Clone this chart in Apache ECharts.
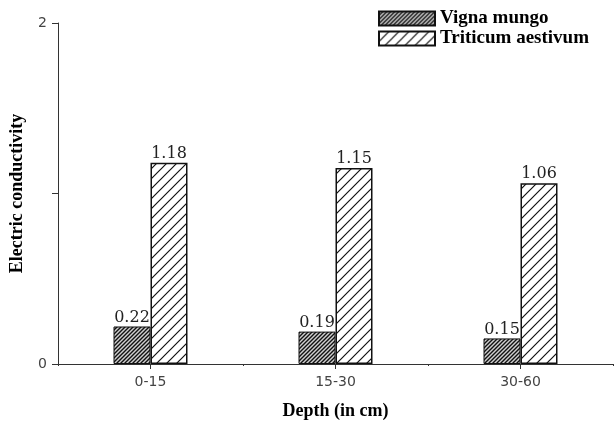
<!DOCTYPE html>
<html><head><meta charset="utf-8">
<script src="https://cdn.jsdelivr.net/npm/echarts@6/dist/echarts.min.js"></script>
<style>html,body{margin:0;padding:0;background:#fff}#c{width:615px;height:421px}</style>
</head><body><div id="c"></div>
<script>
var categories = ['0-15', '15-30', '30-60'];
var vignaMungo = [0.22, 0.19, 0.15];
var triticumAestivum = [1.18, 1.15, 1.06];
var yTicks = [0, 1, 2];

function hatch(size, lw, color, bg) {
  var c = document.createElement('canvas');
  c.width = size; c.height = size;
  var g = c.getContext('2d');
  g.fillStyle = bg; g.fillRect(0, 0, size, size);
  g.strokeStyle = color; g.lineWidth = lw;
  g.beginPath();
  g.moveTo(0, size); g.lineTo(size, 0);
  g.moveTo(-size / 2, size / 2); g.lineTo(size / 2, -size / 2);
  g.moveTo(size / 2, size * 1.5); g.lineTo(size * 1.5, size / 2);
  g.stroke();
  return c;
}
var darkPat = { image: hatch(4, 1.4, '#111', '#cfcfcf'), repeat: 'repeat' };
var lightPat = { image: hatch(10, 1.2, '#111', '#ffffff'), repeat: 'repeat' };

var serif = '"Liberation Serif","Times New Roman",serif';
var chart = echarts.init(document.getElementById('c'));
chart.setOption({
  animation: false,
  grid: { left: 58, right: 2, top: 23, bottom: 57, outerBoundsMode: 'none', containLabel: false },
  legend: {
    left: 373, top: 4, orient: 'vertical', itemWidth: 56, itemHeight: 14, itemGap: 1,
    icon: 'rect',
    textStyle: { fontFamily: serif, fontWeight: 'bold', fontSize: 19, color: '#000' },
    data: ['Vigna mungo', 'Triticum aestivum']
  },
  xAxis: [{
    type: 'category', data: categories,
    name: 'Depth (in cm)', nameLocation: 'middle', nameGap: 38,
    nameTextStyle: { fontFamily: serif, fontWeight: 'bold', fontSize: 18, color: '#000' },
    axisLine: { lineStyle: { color: '#333', width: 1 } },
    axisTick: { show: true, alignWithLabel: true, length: 5, lineStyle: { color: '#333' } },
    axisLabel: { color: '#444', fontSize: 14, margin: 11, fontFamily: '"DejaVu Sans", sans-serif' }
  }, {
    type: 'category', data: categories, position: 'bottom',
    axisLine: { show: false },
    axisTick: { show: true, length: 2, lineStyle: { color: '#333' } },
    axisLabel: { show: false }
  }],
  yAxis: {
    type: 'value', min: 0, max: 2, interval: 1,
    name: 'Electric conductivity', nameLocation: 'middle', nameGap: 32,
    nameTextStyle: { fontFamily: serif, fontWeight: 'bold', fontSize: 18, color: '#000' },
    splitLine: { show: false },
    axisLine: { show: true, lineStyle: { color: '#333', width: 1 } },
    axisTick: { show: true, length: 6, lineStyle: { color: '#333' } },
    axisLabel: {
      color: '#444', fontSize: 14, margin: 11, fontFamily: '"DejaVu Sans", sans-serif',
      formatter: function (v) { return (v === yTicks[0] || v === yTicks[2]) ? String(v) : ''; }
    }
  },
  series: [
    {
      name: 'Vigna mungo', type: 'bar', data: vignaMungo, barWidth: 37, barGap: '0%',
      itemStyle: { color: darkPat, borderColor: '#111', borderWidth: 1 },
      label: { show: true, position: 'top', distance: 1, fontFamily: '"DejaVu Serif", serif', fontSize: 16, color: '#222',
        formatter: function (p) { return p.value.toFixed(2); } }
    },
    {
      name: 'Triticum aestivum', type: 'bar', data: triticumAestivum, barWidth: 37,
      itemStyle: { color: lightPat, borderColor: '#111', borderWidth: 1.5 },
      label: { show: true, position: 'top', distance: 1, fontFamily: '"DejaVu Serif", serif', fontSize: 16, color: '#222',
        formatter: function (p) { return p.value.toFixed(2); } }
    }
  ]
});
</script></body></html>
